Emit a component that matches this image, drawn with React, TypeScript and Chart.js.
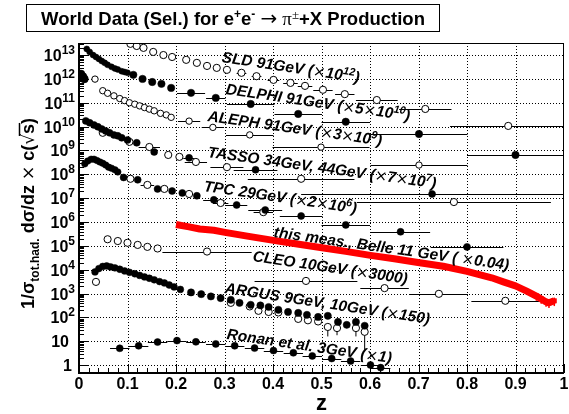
import React, { useEffect, useRef } from "react";
import { Chart, registerables } from "chart.js";
Chart.register(...registerables);

// ---------- axis / tick labels ----------
const X_TICK_VALUES = [0, 0.1, 0.2, 0.3, 0.4, 0.5, 0.6, 0.7, 0.8, 0.9, 1];
const X_TICK_LABELS = ["0", "0.1", "0.2", "0.3", "0.4", "0.5", "0.6", "0.7", "0.8", "0.9", "1"];
const Y_DECADES = [0, 1, 2, 3, 4, 5, 6, 7, 8, 9, 10, 11, 12, 13];

// ---------- SLD 91 GeV (x1e12), open ----------
const sldZ = [0.106, 0.119, 0.133, 0.153, 0.174, 0.192, 0.221, 0.243, 0.264, 0.284, 0.305, 0.335, 0.366, 0.401, 0.436, 0.466, 0.503, 0.548, 0.614, 0.714, 0.885];
const sldY = [2.95e13, 2.4e13, 2.0e13, 1.35e13, 1.0e13, 8.3e12, 6.3e12, 4.7e12, 3.5e12, 2.9e12, 2.4e12, 1.8e12, 1.3e12, 9.1e11, 6.8e11, 5.1e11, 3.5e11, 2.3e11, 1.3e11, 5.5e10, 1.07e10];
const sldXErr = [0, 0, 0, 0, 0, 0, 0, 0, 0, 0, 0, 0.01, 0.01, 0.012, 0.015, 0.015, 0.02, 0.02, 0.043, 0.054, 0.12];

// ---------- DELPHI 91 GeV (x5e10), filled ----------
const delphiBlobZ = [0.004, 0.008, 0.011];
const delphiBlobY = [1.6e12, 1.25e12, 1.0e12];
const delphiLowZ = [0.016, 0.022, 0.029, 0.035, 0.041, 0.047, 0.053, 0.059, 0.067, 0.074, 0.080, 0.088, 0.094, 0.100];
const delphiLowY = [1.8e13, 1.35e13, 1.0e13, 8.3e12, 6.9e12, 5.6e12, 4.7e12, 3.9e12, 3.2e12, 2.75e12, 2.5e12, 2.1e12, 1.95e12, 1.8e12];
const delphiZ = [0.112, 0.131, 0.151, 0.170, 0.190, 0.231, 0.282, 0.354, 0.452, 0.550, 0.701, 0.900];
const delphiY = [1.48e12, 1.0e12, 7.4e11, 6.2e11, 4.2e11, 2.6e11, 1.6e11, 8.9e10, 3.4e10, 1.6e10, 4.9e9, 6.5e8];
const delphiXErr = [0, 0, 0, 0, 0, 0.029, 0.02, 0.049, 0.049, 0.05, 0.1, 0.1];

// ---------- ALEPH 91 GeV (x3e9), open ----------
const alephZ = [0.033, 0.049, 0.059, 0.072, 0.084, 0.094, 0.104, 0.115, 0.125, 0.135, 0.145, 0.155, 0.168, 0.180, 0.190, 0.227, 0.276, 0.352, 0.499, 0.701];
const alephY = [9.8e11, 3.2e11, 2.5e11, 1.95e11, 1.5e11, 1.23e11, 1.0e11, 8.7e10, 7.4e10, 6.3e10, 5.4e10, 4.6e10, 3.6e10, 3.1e10, 2.45e10, 1.7e10, 9.3e9, 4.5e9, 1.38e9, 2.45e8];
const alephXErr = [0, 0, 0, 0, 0, 0, 0, 0, 0, 0, 0, 0, 0, 0, 0, 0.023, 0.023, 0.049, 0.1, 0.1];

// ---------- TASSO 34 GeV (filled) / 44 GeV (open) (x7e7) ----------
const tassoAZ = [0.014, 0.022, 0.031, 0.039, 0.047, 0.055, 0.063, 0.072, 0.080, 0.088, 0.100, 0.119, 0.155, 0.227, 0.364, 0.728];
const tassoAY = [1.74e10, 1.45e10, 1.17e10, 9.8e9, 7.9e9, 6.6e9, 5.5e9, 4.5e9, 4.1e9, 3.4e9, 2.75e9, 2.1e9, 8.7e8, 4.9e8, 1.55e8, 1.5e7];
const tassoAXErr = [0, 0, 0, 0, 0, 0, 0, 0, 0, 0, 0, 0, 0, 0.012, 0.045, 0.27];
const tassoBZ = [0.049, 0.104, 0.145, 0.184, 0.207, 0.241, 0.305, 0.458, 0.773];
const tassoBY = [5.5e9, 2.3e9, 1.4e9, 6.5e8, 5.4e8, 3.3e8, 2.0e8, 6.5e7, 6.9e6];
const tassoBXErr = [0, 0, 0.022, 0, 0, 0.023, 0.034, 0.11, 0.2];

// ---------- TPC 29 GeV (x2e6) ----------
const tpcLowZ = [0.012, 0.018, 0.025, 0.031, 0.037, 0.043, 0.049, 0.055, 0.061, 0.067, 0.074, 0.080];
const tpcLowY = [2.75e8, 3.6e8, 4.3e8, 4.3e8, 3.8e8, 3.3e8, 2.9e8, 2.45e8, 2.0e8, 1.8e8, 1.55e8, 1.26e8];
const tpcZ = [0.092, 0.121, 0.162, 0.192, 0.213, 0.243, 0.278, 0.325, 0.384, 0.458, 0.550, 0.663, 0.800];
const tpcY = [7.4e7, 5.9e7, 2.45e7, 2.0e7, 1.66e7, 1.26e7, 8.5e6, 5.2e6, 3.2e6, 1.8e6, 7.6e5, 3.9e5, 9.1e4];
const tpcXErr = [0, 0, 0, 0, 0, 0, 0.022, 0.022, 0.035, 0.044, 0.05, 0.061, 0.075];
const tpcOpenZ = [0.106, 0.141, 0.176, 0.227, 0.292, 0.380];
const tpcOpenY = [6.5e7, 3.6e7, 2.45e7, 1.5e7, 6.3e6, 2.6e6];
const tpcOpenXErr = [0, 0.014, 0, 0, 0.016, 0.02];

// ---------- this meas., Belle 11 GeV (x0.04) ----------
const belleZ = [0.200, 0.227, 0.249, 0.278, 0.301, 0.350, 0.401, 0.450, 0.501, 0.550, 0.601, 0.650, 0.699, 0.751, 0.800, 0.851, 0.875, 0.900, 0.922, 0.933, 0.943, 0.953, 0.963, 0.969, 0.980];
const belleY = [7.9e5, 6.3e5, 5.1e5, 4.5e5, 3.7e5, 2.5e5, 1.7e5, 1.2e5, 8.3e4, 5.9e4, 4.0e4, 2.9e4, 2.0e4, 1.4e4, 8.5e3, 4.6e3, 3.1e3, 2.1e3, 1.3e3, 1.0e3, 790, 600, 450, 410, 500];
const belleYLo = [0, 0, 0, 0, 0, 0, 0, 0, 0, 0, 0, 0, 0, 0, 0, 0, 0, 0, 0, 0, 500, 380, 280, 250, 300];
const belleYHi = [0, 0, 0, 0, 0, 0, 0, 0, 0, 0, 0, 0, 0, 0, 0, 0, 0, 0, 0, 0, 1000, 780, 600, 560, 680];

// ---------- CLEO 10 GeV (x3000), open ----------
const cleoZ = [0.059, 0.080, 0.100, 0.121, 0.141, 0.162, 0.264, 0.468, 0.630, 0.742, 0.879];
const cleoY = [1.9e5, 1.6e5, 1.35e5, 1.1e5, 9.1e4, 7.8e4, 5.8e4, 3.4e3, 1.7e3, 980, 500];
const cleoXErr = [0, 0, 0, 0, 0, 0, 0.092, 0.106, 0.05, 0.06, 0.07];

// ---------- ARGUS 9 GeV (filled) / 10 GeV (open) (x150) ----------
const argusLowZ = [0.033, 0.041, 0.049, 0.057, 0.065, 0.074, 0.084, 0.094, 0.104, 0.115, 0.125, 0.135, 0.145, 0.155, 0.166, 0.176, 0.186, 0.196, 0.209];
const argusLowY = [8.1e3, 1.12e4, 1.38e4, 1.45e4, 1.32e4, 1.2e4, 1.05e4, 8.9e3, 7.8e3, 6.8e3, 5.8e3, 5.0e3, 4.4e3, 3.8e3, 3.2e3, 2.8e3, 2.3e3, 1.9e3, 1.5e3];
const argusZ = [0.231, 0.252, 0.272, 0.292, 0.313, 0.331, 0.354, 0.374, 0.391, 0.411, 0.431, 0.452, 0.470, 0.493, 0.513, 0.534, 0.552, 0.571, 0.589];
const argusY = [1.12e3, 950, 760, 650, 550, 410, 340, 320, 275, 210, 170, 155, 129, 105, 117, 65, 49, 65, 45];
const argusOpenZ = [0.035, 0.313, 0.352, 0.370, 0.391, 0.411, 0.452, 0.472, 0.493, 0.513, 0.532, 0.571, 0.589];
const argusOpenY = [3.1e3, 410, 290, 190, 170, 162, 87, 76, 68, 40, 36, 36, 25];
const argusOpenYLo = [0, 0, 0, 0, 0, 0, 0, 0, 0, 16, 18, 16, 4.4];
const argusOpenYHi = [0, 0, 0, 0, 0, 0, 0, 0, 0, 55, 50, 50, 59];

// ---------- Ronan et al. 3 GeV (x1), filled ----------
const ronanZ = [0.084, 0.123, 0.162, 0.202, 0.241, 0.282, 0.321, 0.362, 0.401, 0.442, 0.481, 0.521, 0.560, 0.601, 0.622];
const ronanY = [5.1, 6.5, 9.3, 10.7, 9.5, 7.8, 6.5, 5.2, 4.1, 3.3, 2.45, 1.9, 1.48, 1.02, 0.79];
const ronanXErr = [0.02, 0.02, 0.02, 0.02, 0.02, 0.02, 0.02, 0.02, 0.02, 0.02, 0.02, 0.02, 0.02, 0.02, 0.02];
const ronanYLo = [0, 0, 0, 0, 0, 0, 0, 0, 0, 0, 0, 0, 0, 0.77, 0.54];
const ronanYHi = [0, 0, 0, 0, 0, 0, 0, 0, 0, 0, 0, 0, 0, 1.3, 1.05];

const FONT = "'Liberation Sans', Arial, Helvetica, sans-serif";

const pts = (z: number[], y: number[]) => z.map((v, i) => ({ x: v, y: y[i] }));
const filled = (r: number) => ({
  showLine: false,
  pointStyle: "circle",
  pointRadius: r,
  pointBackgroundColor: "#000",
  pointBorderColor: "#000",
  pointBorderWidth: 0.5,
});
const open = (r: number) => ({
  showLine: false,
  pointStyle: "circle",
  pointRadius: r,
  pointBackgroundColor: "#fff",
  pointBorderColor: "#000",
  pointBorderWidth: 1,
});

type Part = [string, string, number?];

function drawParts(ctx: CanvasRenderingContext2D, parts: Part[], x: number, y: number) {
  let cx = x;
  for (const [t, f, dy] of parts) {
    ctx.font = f;
    ctx.fillText(t, cx, y + (dy || 0));
    cx += ctx.measureText(t).width;
  }
  return cx - x;
}
function widthParts(ctx: CanvasRenderingContext2D, parts: Part[]) {
  let w = 0;
  for (const [t, f] of parts) {
    ctx.font = f;
    w += ctx.measureText(t).width;
  }
  return w;
}

const LB = `italic bold 15.4px ${FONT}`;
const LS = `italic bold 10.8px ${FONT}`;
const LX = `15px 'DejaVu Sans', sans-serif`;

const SERIES_LABELS: { parts: Part[]; x: number; y: number; a: number }[] = [
  { parts: [["SLD 91GeV (", LB], ["×", LX], ["10", LB], ["12", LS, -6], [")", LB]], x: 222, y: 57, a: 8.5 },
  { parts: [["DELPHI 91GeV (", LB], ["×", LX], ["5", LB], ["×", LX], ["10", LB], ["10", LS, -6], [")", LB]], x: 226, y: 89, a: 8.3 },
  { parts: [["ALEPH 91GeV (", LB], ["×", LX], ["3", LB], ["×", LX], ["10", LB], ["9", LS, -6], [")", LB]], x: 208, y: 116, a: 8 },
  { parts: [["TASSO 34GeV, 44GeV (", LB], ["×", LX], ["7", LB], ["×", LX], ["10", LB], ["7", LS, -6], [")", LB]], x: 208, y: 152, a: 7.8 },
  { parts: [["TPC 29GeV (", LB], ["×", LX], ["2", LB], ["×", LX], ["10", LB], ["6", LS, -6], [")", LB]], x: 204, y: 186, a: 8.3 },
  { parts: [["this meas., Belle 11 GeV ( ", LB], ["×", LX], ["0.04)", LB]], x: 274, y: 232, a: 8 },
  { parts: [["CLEO 10GeV (", LB], ["×", LX], ["3000)", LB]], x: 253, y: 256, a: 8.4 },
  { parts: [["ARGUS 9GeV, 10GeV (", LB], ["×", LX], ["150)", LB]], x: 225, y: 288, a: 8.6 },
  { parts: [["Ronan et al. 3GeV (", LB], ["×", LX], ["1)", LB]], x: 227, y: 334, a: 8.3 },
];

const rootPlugin = {
  id: "rootStyle",
  beforeDatasetsDraw(chart: any) {
    const { ctx, chartArea: ca } = chart;
    const xs = chart.scales.x;
    const ys = chart.scales.y;
    const line = (a: number, b: number, c: number, d: number) => {
      ctx.beginPath();
      ctx.moveTo(a, b);
      ctx.lineTo(c, d);
      ctx.stroke();
    };
    ctx.save();
    ctx.fillStyle = "#fff";
    ctx.fillRect(0, 0, chart.width, chart.height);
    // dotted grid
    ctx.strokeStyle = "#000";
    ctx.lineWidth = 1;
    ctx.setLineDash([1, 2]);
    X_TICK_VALUES.slice(1, -1).forEach((v) => {
      const px = Math.round(xs.getPixelForValue(v)) + 0.5;
      line(px, ca.top, px, ca.bottom);
    });
    Y_DECADES.forEach((n) => {
      const py = Math.round(ys.getPixelForValue(Math.pow(10, n))) + 0.5;
      line(ca.left, py, ca.right, py);
    });
    ctx.setLineDash([]);
    // error bars
    ctx.beginPath();
    ctx.rect(ca.left, ca.top, ca.right - ca.left, ca.bottom - ca.top);
    ctx.clip();
    chart.data.datasets.forEach((ds: any) => {
      const ex = ds.errX;
      const lo = ds.errYLo;
      const hi = ds.errYHi;
      if (!ex && !lo) return;
      ctx.strokeStyle = ds.errColor || "#000";
      ctx.lineWidth = ds.errWidth || 1;
      ds.data.forEach((p: any, i: number) => {
        const py = Math.round(ys.getPixelForValue(p.y)) + 0.5;
        const px = xs.getPixelForValue(p.x);
        if (ex && ex[i]) line(xs.getPixelForValue(p.x - ex[i]), py, xs.getPixelForValue(p.x + ex[i]), py);
        if (lo && lo[i]) line(px, ys.getPixelForValue(lo[i]), px, ys.getPixelForValue(hi[i]));
      });
    });
    ctx.restore();
  },
  afterDatasetsDraw(chart: any) {
    const { ctx, chartArea: ca } = chart;
    const xs = chart.scales.x;
    const ys = chart.scales.y;
    const line = (a: number, b: number, c: number, d: number) => {
      ctx.beginPath();
      ctx.moveTo(a, b);
      ctx.lineTo(c, d);
      ctx.stroke();
    };
    ctx.save();
    ctx.fillStyle = "#000";
    ctx.strokeStyle = "#000";
    // frame
    ctx.lineWidth = 1;
    ctx.strokeRect(ca.left + 0.5, ca.top + 0.5, ca.right - ca.left - 1, ca.bottom - ca.top);
    ctx.lineWidth = 2;
    line(ca.left, ca.top, ca.left, ca.bottom + 1);
    line(ca.left - 1, ca.bottom, ca.right, ca.bottom);
    // y ticks
    ctx.lineWidth = 1;
    Y_DECADES.forEach((n) => {
      const py = Math.round(ys.getPixelForValue(Math.pow(10, n))) + 0.5;
      line(ca.left, py, ca.left + 10, py);
      for (let k = 2; k <= 9; k++) {
        const v = k * Math.pow(10, n);
        if (v > ys.max) break;
        const pm = Math.round(ys.getPixelForValue(v)) + 0.5;
        line(ca.left, pm, ca.left + 5, pm);
      }
    });
    // x ticks
    for (let i = 0; i <= 50; i++) {
      const v = i / 50;
      const px = Math.round(xs.getPixelForValue(v)) + 0.5;
      line(px, ca.bottom, px, ca.bottom - (i % 5 === 0 ? 9 : 5));
    }
    // x tick labels
    ctx.textAlign = "center";
    ctx.textBaseline = "alphabetic";
    ctx.font = `bold 16px ${FONT}`;
    X_TICK_VALUES.forEach((v, i) => {
      ctx.fillText(X_TICK_LABELS[i], xs.getPixelForValue(v), 389);
    });
    // y tick labels
    ctx.textAlign = "left";
    Y_DECADES.forEach((n) => {
      const gy = ys.getPixelForValue(Math.pow(10, n));
      let parts: Part[];
      let right = 75;
      if (n === 0) {
        parts = [["1", `bold 16px ${FONT}`, 0]];
        right = 72;
      } else if (n === 1) {
        parts = [["10", `bold 16px ${FONT}`, 0]];
        right = 69;
      } else {
        parts = [["10", `bold 16px ${FONT}`, 0], [String(n), `bold 12px ${FONT}`, -7]];
      }
      const w = widthParts(ctx, parts);
      drawParts(ctx, parts, right - w, gy + 6);
    });
    // series labels
    SERIES_LABELS.forEach((l) => {
      ctx.save();
      ctx.translate(l.x, l.y);
      ctx.rotate((l.a * Math.PI) / 180);
      drawParts(ctx, l.parts, 0, 5);
      ctx.restore();
    });
    // x title
    ctx.textAlign = "center";
    ctx.font = `bold 22px ${FONT}`;
    ctx.fillText("z", (ca.left + ca.right) / 2, 410);
    // y title
    ctx.textAlign = "left";
    ctx.save();
    ctx.translate(34, 309);
    ctx.rotate(-Math.PI / 2);
    const YT = `bold 18px ${FONT}`;
    let cx = 0;
    cx += drawParts(ctx, [["1/σ", YT]], cx, 0);
    cx += drawParts(ctx, [["tot.had.", `bold 12px ${FONT}`, 5]], cx, 0);
    cx += drawParts(ctx, [[" dσ/dz ", YT], ["×", `17px 'DejaVu Sans', sans-serif`], [" c(", YT], ["√", `17px 'DejaVu Sans', sans-serif`]], cx, 0);
    ctx.font = YT;
    const sw = ctx.measureText("s").width;
    ctx.fillText("s", cx, 0);
    ctx.lineWidth = 1.5;
    line(cx - 2, -14.5, cx + sw + 1, -14.5);
    cx += sw;
    ctx.fillText(")", cx, 0);
    ctx.restore();
    // title box
    ctx.lineWidth = 1;
    ctx.strokeRect(26.5, 4.5, 413, 27);
    const TB = `bold 18.5px ${FONT}`;
    const TS = `bold 12px ${FONT}`;
    const tparts: Part[] = [
      ["World Data (Sel.) for e", TB],
      ["+", TS, -7],
      ["e", TB],
      ["-", TS, -7],
      [" ", TB],
      ["→", `20px 'DejaVu Sans', sans-serif`],
      [" ", TB],
      ["π", `19px 'Liberation Serif', serif`],
      ["±", `13px 'Liberation Serif', serif`, -6],
      ["+X Production", TB],
    ];
    const tw = widthParts(ctx, tparts);
    drawParts(ctx, tparts, 26.5 + (413 - tw) / 2, 24.5);
    ctx.restore();
  },
};

export default function App() {
  const ref = useRef<HTMLCanvasElement>(null);
  useEffect(() => {
    const canvas = ref.current;
    if (!canvas) return;
    const datasets: any[] = [
      { label: "SLD", data: pts(sldZ, sldY), errX: sldXErr, ...open(3.6) },
      { label: "DELPHI blob", data: pts(delphiBlobZ, delphiBlobY), ...filled(4) },
      { label: "DELPHI low", data: pts(delphiLowZ, delphiLowY), ...filled(3) },
      { label: "DELPHI", data: pts(delphiZ, delphiY), errX: delphiXErr, ...filled(3.7) },
      { label: "ALEPH", data: pts(alephZ, alephY), errX: alephXErr, ...open(3.2) },
      { label: "TASSO 34", data: pts(tassoAZ, tassoAY), errX: tassoAXErr, ...filled(3.5) },
      { label: "TASSO 44", data: pts(tassoBZ, tassoBY), errX: tassoBXErr, ...open(3.6) },
      { label: "TPC low", data: pts(tpcLowZ, tpcLowY), ...filled(3.3) },
      { label: "TPC", data: pts(tpcZ, tpcY), errX: tpcXErr, ...filled(3.5) },
      { label: "TPC open", data: pts(tpcOpenZ, tpcOpenY), errX: tpcOpenXErr, ...open(3.6) },
      { label: "CLEO", data: pts(cleoZ, cleoY), errX: cleoXErr, ...open(3.6) },
      { label: "ARGUS low", data: pts(argusLowZ, argusLowY), ...filled(3.4) },
      { label: "ARGUS", data: pts(argusZ, argusY), ...filled(3.6) },
      { label: "ARGUS open", data: pts(argusOpenZ, argusOpenY), errYLo: argusOpenYLo, errYHi: argusOpenYHi, ...open(3.6) },
      { label: "Ronan", data: pts(ronanZ, ronanY), errX: ronanXErr, errYLo: ronanYLo, errYHi: ronanYHi, ...filled(3.5) },
      {
        label: "Belle",
        data: pts(belleZ, belleY),
        showLine: true,
        borderColor: "#ff0000",
        borderWidth: 7,
        borderCapStyle: "butt",
        borderJoinStyle: "round",
        pointStyle: "rect",
        pointRadius: belleZ.map((z, i) => (belleYLo[i] ? 3.5 : 0)),
        pointBackgroundColor: "#ff0000",
        pointBorderColor: "#ff0000",
        pointBorderWidth: 0,
        errYLo: belleYLo,
        errYHi: belleYHi,
        errColor: "#ff0000",
        errWidth: 1.5,
        tension: 0,
      },
    ];
    const chart = new Chart(canvas, {
      type: "scatter",
      data: { datasets },
      options: {
        responsive: false,
        animation: false,
        events: [],
        layout: { padding: { left: 79, right: 1, top: 43, bottom: 41 } },
        scales: {
          x: { type: "linear", min: 0, max: 1, display: false },
          y: { type: "logarithmic", min: 0.47, max: 3.2e13, display: false },
        },
        plugins: { legend: { display: false }, tooltip: { enabled: false } },
      },
      plugins: [rootPlugin],
    } as any);
    return () => chart.destroy();
  }, []);
  return (
    <div style={{ position: "absolute", left: 0, top: 0, width: 569, height: 414, background: "#fff" }}>
      <canvas ref={ref} width={569} height={414} style={{ display: "block", width: 569, height: 414 }} />
    </div>
  );
}
